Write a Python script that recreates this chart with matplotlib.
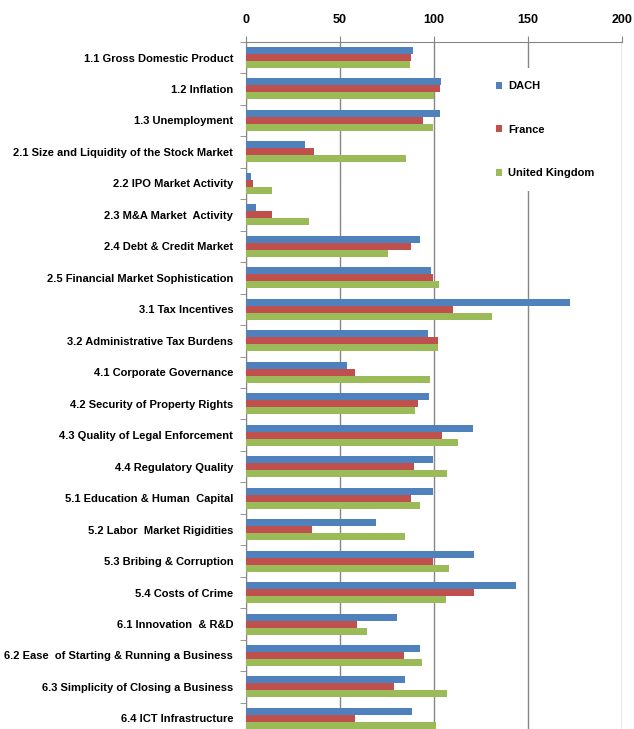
import numpy as np
import matplotlib
matplotlib.use("Agg")
import matplotlib.pyplot as plt

plt.rcParams['font.family'] = ['Liberation Sans', 'DejaVu Sans']

categories = [
    "1.1 Gross Domestic Product",
    "1.2 Inflation",
    "1.3 Unemployment",
    "2.1 Size and Liquidity of the Stock Market",
    "2.2 IPO Market Activity",
    "2.3 M&A Market  Activity",
    "2.4 Debt & Credit Market",
    "2.5 Financial Market Sophistication",
    "3.1 Tax Incentives",
    "3.2 Administrative Tax Burdens",
    "4.1 Corporate Governance",
    "4.2 Security of Property Rights",
    "4.3 Quality of Legal Enforcement",
    "4.4 Regulatory Quality",
    "5.1 Education & Human  Capital",
    "5.2 Labor  Market Rigidities",
    "5.3 Bribing & Corruption",
    "5.4 Costs of Crime",
    "6.1 Innovation  & R&D",
    "6.2 Ease  of Starting & Running a Business",
    "6.3 Simplicity of Closing a Business",
    "6.4 ICT Infrastructure",
]

dach = [88.9, 103.8, 103.3, 31.6, 3.0, 5.5, 92.6, 98.8, 172.5, 97.1, 53.8, 97.4,
        120.7, 99.7, 99.7, 69.2, 121.4, 143.7, 80.6, 92.6, 84.6, 88.4]
france = [87.7, 103.3, 94.2, 36.4, 3.9, 14.0, 87.8, 99.9, 110.4, 102.2, 58.0, 91.6,
          104.3, 89.4, 87.8, 35.3, 99.9, 121.4, 59.1, 84.1, 79.0, 58.0]
uk = [87.3, 100.4, 99.7, 85.4, 14.0, 33.7, 75.6, 102.7, 131.1, 102.2, 98.0, 90.3,
      112.9, 107.0, 92.6, 84.6, 108.1, 106.8, 64.4, 93.7, 107.0, 101.1]

series = [("DACH", dach, "#4F81BD"),
          ("France", france, "#C0504D"),
          ("United Kingdom", uk, "#9BBB59")]

fig = plt.figure(figsize=(6.34, 7.29), dpi=100)
ax = fig.add_axes([0.3875, -0.0071, 0.5931, 0.9498])

y = np.arange(len(categories))
h = 1 / 4.5
for i, (name, vals, col) in enumerate(series):
    ax.barh(y + (i - 1) * h, vals, height=h, color=col, label=name, zorder=3)

ax.set_xlim(0, 200)
ax.set_ylim(len(categories) - 0.5, -0.5)
ax.set_xticks([0, 50, 100, 150, 200])
ax.xaxis.tick_top()
ax.tick_params(axis='x', length=4, color='#868686', pad=7, labelsize=9)
for lbl in ax.get_xticklabels():
    lbl.set_fontweight('bold')
ax.grid(axis='x', color='#868686', linewidth=1, zorder=0)

ax.set_yticks(y)
ax.set_yticklabels(categories, fontsize=8, fontweight='bold')
ax.tick_params(axis='y', length=0, pad=9)
ax.set_yticks(np.arange(len(categories) + 1) - 0.5, minor=True)
ax.tick_params(axis='y', which='minor', length=4, color='#868686')

for s in ['right', 'bottom']:
    ax.spines[s].set_visible(False)
for s in ['left', 'top']:
    ax.spines[s].set_color('#868686')

leg = ax.legend(loc='upper left', bbox_to_anchor=(0.615, 0.97), frameon=True,
                fancybox=False, edgecolor='none', facecolor='white', framealpha=1,
                handlelength=0.6, handleheight=0.6, handletextpad=0.5,
                labelspacing=3.0, borderpad=1.2, prop={'weight': 'bold', 'size': 8})
leg.set_zorder(5)

fig.savefig("out.png", dpi=100)
